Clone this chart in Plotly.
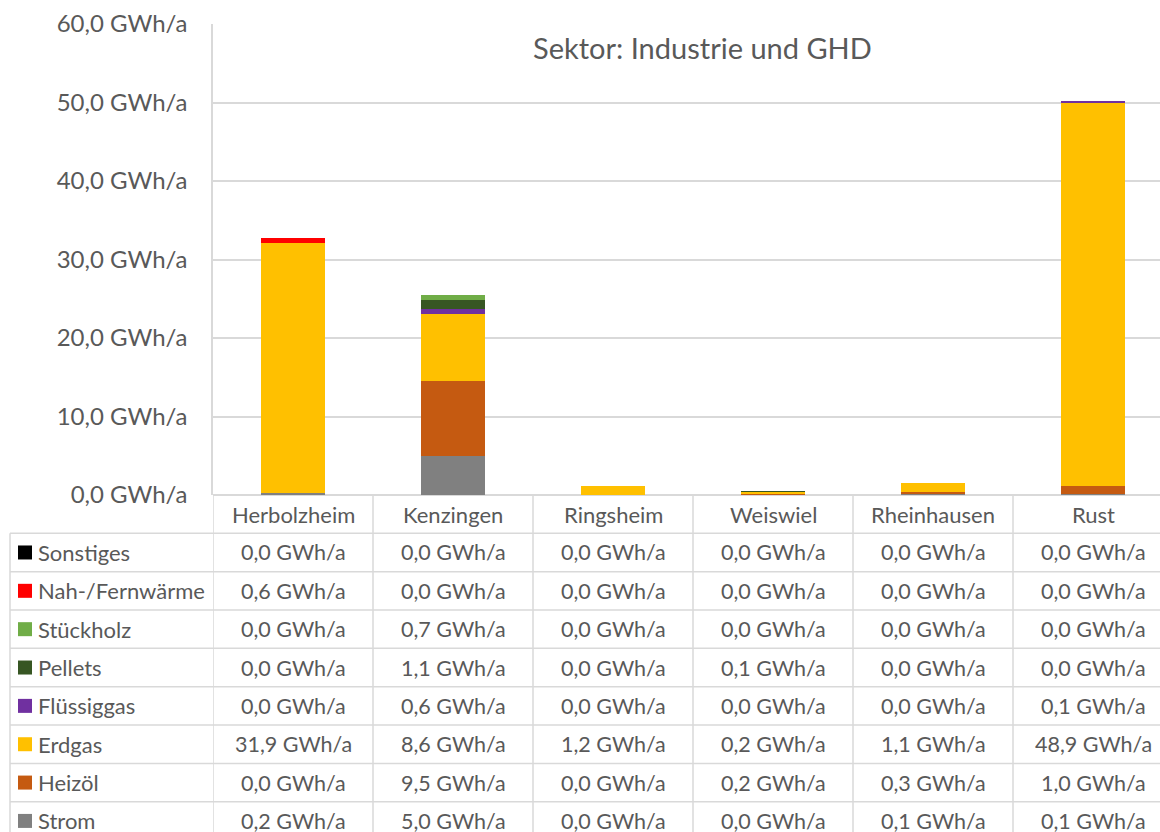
import plotly.graph_objects as go

# ---- data ----
cities = ["Herbolzheim", "Kenzingen", "Ringsheim", "Weiswiel", "Rheinhausen", "Rust"]
series_names = ["Sonstiges", "Nah-/Fernwärme", "Stückholz", "Pellets", "Flüssiggas", "Erdgas", "Heizöl", "Strom"]
sonstiges = [0.0, 0.0, 0.0, 0.0, 0.0, 0.0]
nah_fernwaerme = [0.6, 0.0, 0.0, 0.0, 0.0, 0.0]
stueckholz = [0.0, 0.7, 0.0, 0.0, 0.0, 0.0]
pellets = [0.0, 1.1, 0.0, 0.1, 0.0, 0.0]
fluessiggas = [0.0, 0.6, 0.0, 0.0, 0.0, 0.1]
erdgas = [31.9, 8.6, 1.2, 0.2, 1.1, 48.9]
heizoel = [0.0, 9.5, 0.0, 0.2, 0.3, 1.0]
strom = [0.2, 5.0, 0.0, 0.0, 0.1, 0.1]
y_tick_values = [0, 10, 20, 30, 40, 50, 60]
title_text = "Sektor: Industrie und GHD"

series_values = [sonstiges, nah_fernwaerme, stueckholz, pellets, fluessiggas, erdgas, heizoel, strom]
colors = ["#000000", "#FF0000", "#70AD47", "#375623", "#7030A0", "#FFC000", "#C55A11", "#808080"]

# ---- layout geometry (pixels) ----
W, H = 1160, 832
plot_left, plot_top, plot_bottom = 213, 24, 495
plot_h = plot_bottom - plot_top
col_px = 160.0
table_left = 10
header_bottom = 533.3
row_h = 38.35

FONT = "Lato"
TXT = "#595959"
GRID = "#D9D9D9"


def fmt(v):
    return f"{v:.1f}".replace(".", ",") + " GWh/a"


def py(p):
    return (plot_bottom - p) / plot_h


def px(p):
    return (p - plot_left) / (W - plot_left)


fig = go.Figure()
# stacked bottom-to-top: Strom first
for name, vals, col in reversed(list(zip(series_names, series_values, colors))):
    fig.add_trace(go.Bar(x=list(range(len(cities))), y=vals, name=name,
                         marker=dict(color=col, line=dict(width=0)), width=0.4))

x_max = -0.5 + (W - plot_left) / col_px

shapes = []
annotations = []

# header row category labels and column lines
for i, c in enumerate(cities):
    annotations.append(dict(x=i, y=py((plot_bottom + header_bottom) / 2), xref="x", yref="paper",
                            text=c, showarrow=False, xanchor="center", yanchor="middle",
                            font=dict(family=FONT, size=22, color=TXT)))
for i in range(len(cities) + 1):
    shapes.append(dict(type="line", xref="x", yref="paper", x0=i - 0.5, x1=i - 0.5,
                       y0=py(plot_bottom), y1=py(H + 5), line=dict(color=GRID, width=1.5)))

# table rows
n_rows = len(series_names)
for r in range(n_rows + 1):
    yl = header_bottom + r * row_h
    shapes.append(dict(type="line", xref="paper", yref="paper", x0=px(table_left), x1=1.02,
                       y0=py(yl), y1=py(yl), line=dict(color=GRID, width=1.5)))
shapes.append(dict(type="line", xref="paper", yref="paper", x0=px(table_left), x1=px(table_left),
                   y0=py(header_bottom), y1=py(H + 5), line=dict(color=GRID, width=1.5)))

for r, (name, vals, col) in enumerate(zip(series_names, series_values, colors)):
    yc = header_bottom + (r + 0.5) * row_h
    shapes.append(dict(type="rect", xref="paper", yref="paper", x0=px(18), x1=px(32),
                       y0=py(yc - 7), y1=py(yc + 7), fillcolor=col, line=dict(width=0)))
    annotations.append(dict(x=px(36), y=py(yc), xref="paper", yref="paper", text=name,
                            showarrow=False, xanchor="left", yanchor="middle",
                            font=dict(family=FONT, size=22, color=TXT)))
    for i, v in enumerate(vals):
        annotations.append(dict(x=i, y=py(yc), xref="x", yref="paper", text=fmt(v),
                                showarrow=False, xanchor="center", yanchor="middle",
                                font=dict(family=FONT, size=21.5, color=TXT)))

# title
annotations.append(dict(x=px(702), y=py(48), xref="paper", yref="paper", text=title_text,
                        showarrow=False, xanchor="center", yanchor="middle",
                        font=dict(family=FONT, size=29, color=TXT)))

fig.update_layout(
    width=W, height=H, autosize=False,
    margin=dict(l=plot_left, r=0, t=plot_top, b=H - plot_bottom, pad=0),
    barmode="stack", showlegend=False,
    paper_bgcolor="white", plot_bgcolor="white",
    font=dict(family=FONT, color=TXT),
    xaxis=dict(range=[-0.5, x_max], showticklabels=False, showgrid=False, zeroline=False,
               showline=False, fixedrange=True),
    yaxis=dict(range=[0, 60], tickvals=y_tick_values,
               ticktext=[fmt(v) for v in y_tick_values],
               showgrid=True, gridcolor=GRID, gridwidth=1.5,
               zeroline=True, zerolinecolor=GRID, zerolinewidth=1.5,
               showline=True, linecolor=GRID, linewidth=1.5,
               ticks="", ticklabelstandoff=19,
               tickfont=dict(family=FONT, size=24, color=TXT)),
    shapes=shapes, annotations=annotations,
)

fig.write_html("out.html", config={"displayModeBar": False},
               post_script="document.body.style.margin='0';document.body.style.overflow='hidden';")
